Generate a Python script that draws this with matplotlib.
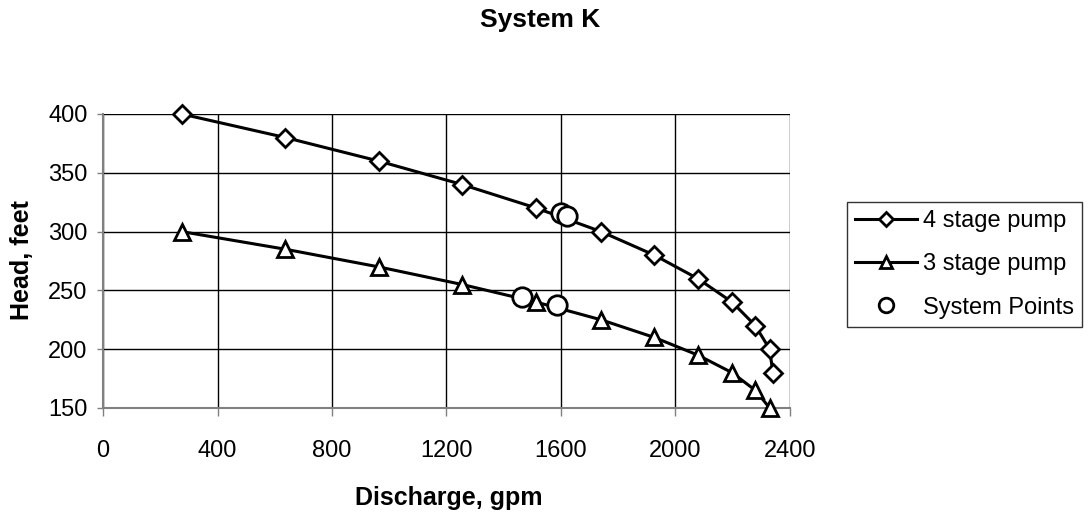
import matplotlib
matplotlib.use('Agg')
import matplotlib.pyplot as plt

# pump curves
flow = [275, 637, 963, 1255, 1514, 1740, 1926, 2078, 2198, 2279, 2329, 2340]
head_4stage = [400, 380, 360, 340, 320, 300, 280, 260, 240, 220, 200, 180]
flow_3 = [275, 637, 963, 1255, 1514, 1740, 1926, 2078, 2198, 2279, 2329]
head_3stage = [300, 285, 270, 255, 240, 225, 210, 195, 180, 165, 150]
sys_flow = [1600, 1620, 1465, 1586]
sys_head = [316, 313, 244, 238]

xticks = [0, 400, 800, 1200, 1600, 2000, 2400]
yticks = [150, 200, 250, 300, 350, 400]

plt.rcParams['font.family'] = ['Liberation Sans', 'DejaVu Sans']

W, H = 1091, 518
fig = plt.figure(figsize=(W / 100, H / 100), dpi=100)
ax = fig.add_axes([103 / W, 1 - 408 / H, 687 / W, 294 / H])

ax.plot(flow, head_4stage, color='black', lw=2.2, marker='D', ms=9, mfc='white',
        mec='black', mew=2, label='4 stage pump', zorder=3, clip_on=False)
ax.plot(flow_3, head_3stage, color='black', lw=2.2, marker='^', ms=11, mfc='white',
        mec='black', mew=2, label='3 stage pump', zorder=3, clip_on=False)
ax.plot(sys_flow, sys_head, ls='none', marker='o', ms=14, mfc='white',
        mec='black', mew=2, label='System Points', zorder=4, clip_on=False)

ax.set_xlim(0, 2400)
ax.set_ylim(150, 400)
ax.set_xticks(xticks)
ax.set_yticks(yticks)
ax.grid(True, color='black', lw=1)
ax.set_axisbelow(True)
for s in ['top', 'right']:
    ax.spines[s].set_visible(False)
for s in ['left', 'bottom']:
    ax.spines[s].set_color('#808080')
    ax.spines[s].set_linewidth(1.5)
ax.tick_params(direction='out', color='#808080', labelsize=17, width=1)
ax.tick_params(axis='x', length=6, pad=17)
ax.tick_params(axis='y', length=4, pad=7)

ax.set_xlabel('Discharge, gpm', fontsize=18, fontweight='bold')
ax.xaxis.set_label_coords((449 - 103) / 687, (408 - 498) / 294)
ax.xaxis.label.set_va('center')
ax.set_ylabel('Head, feet', fontsize=18, fontweight='bold')
ax.yaxis.set_label_coords((22 - 103) / 687, (408 - 260) / 294)
ax.yaxis.label.set_va('center')
fig.text(540 / W, 1 - 20 / H, 'System K', ha='center', va='center',
         fontsize=19, fontweight='bold')

leg = ax.legend(loc='lower left', bbox_to_anchor=(847 / W, 1 - 327 / H),
                bbox_transform=fig.transFigure, fontsize=17, frameon=True,
                fancybox=False, edgecolor='black', handlelength=2.6, handletextpad=0.25,
                borderpad=0.35, borderaxespad=0, labelspacing=0.9, markerscale=0.75)
leg.get_frame().set_linewidth(1)

fig.savefig('out.png', dpi=100)
